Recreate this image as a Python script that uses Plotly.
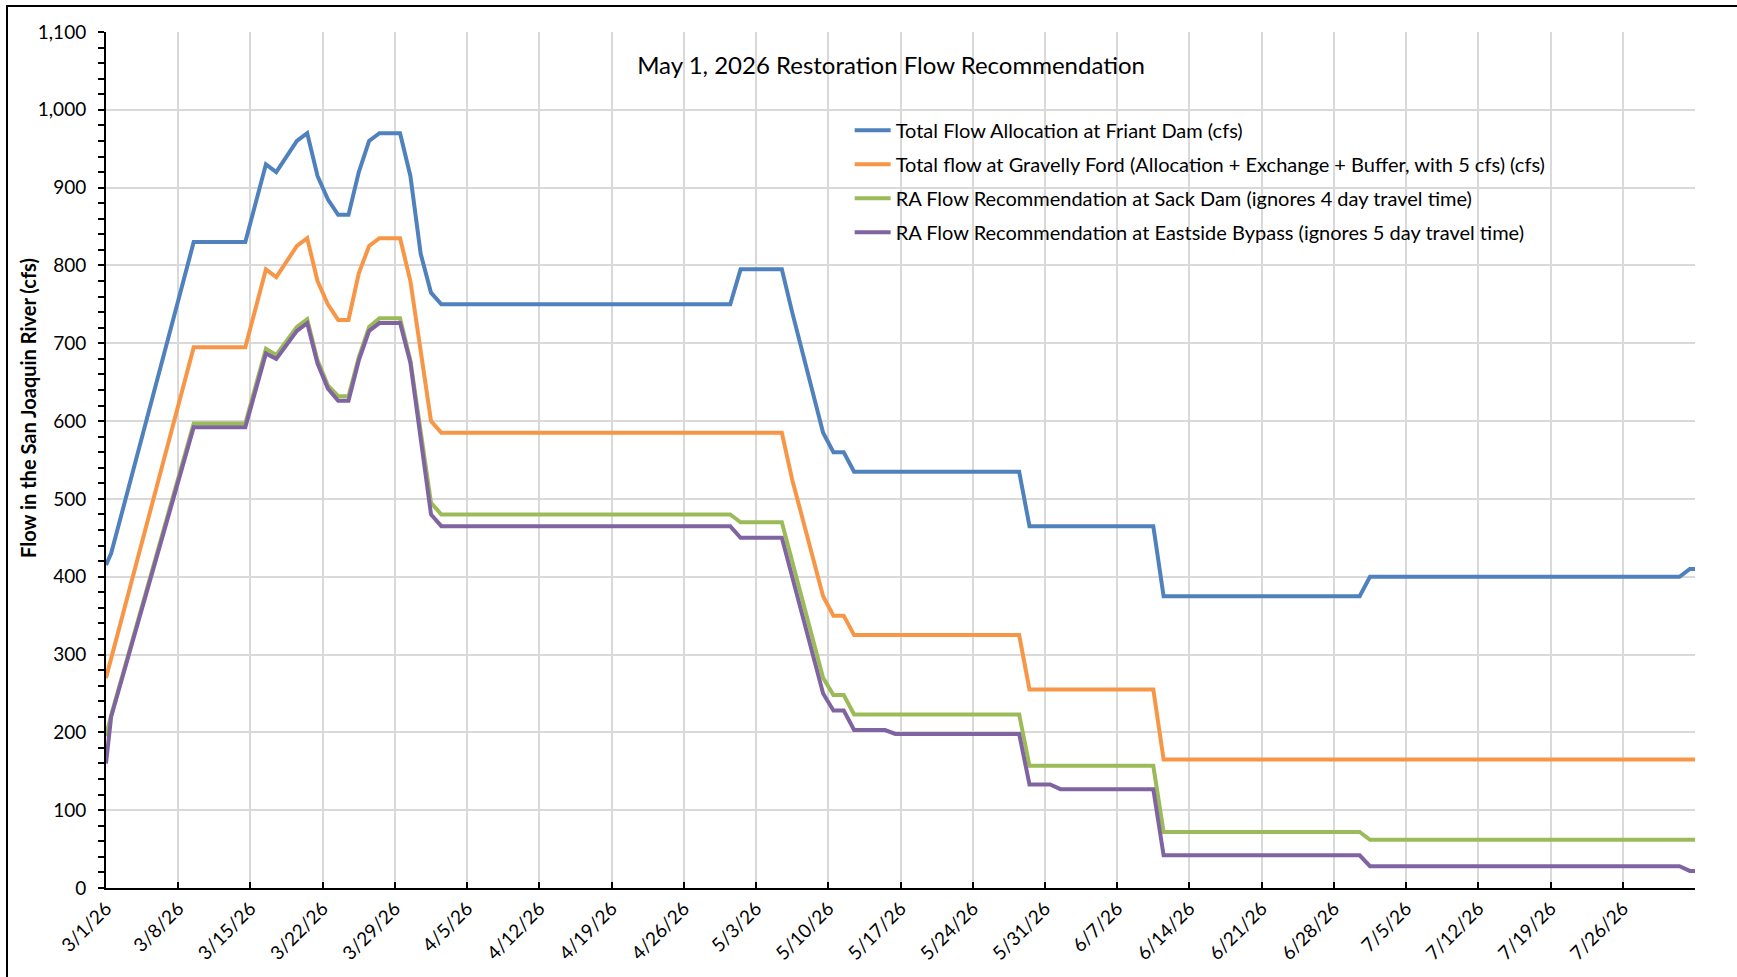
import plotly.graph_objects as go
import pandas as pd

START = pd.Timestamp("2026-03-01")

# Day offsets from 3/1/26 and flows (cfs)
friant_days = [0, 0.5, 8.5, 13.5, 15.5, 16.5, 18.5, 19.5, 20.5, 21.5, 22.5, 23.5, 24.5, 25.5,
               26.5, 28.5, 29.5, 30.5, 31.5, 32.5, 60.5, 61.5, 65.5, 66.5, 69.5, 70.5, 71.5,
               72.5, 88.5, 89.5, 101.5, 102.5, 121.5, 122.5, 152.5, 153.5, 154]
friant_cfs = [415, 430, 830, 830, 930, 920, 960, 970, 915, 885, 865, 865, 920, 960,
              970, 970, 915, 815, 765, 750, 750, 795, 795, 740, 585, 560, 560,
              535, 535, 465, 465, 375, 375, 400, 400, 410, 410]

gravelly_days = [0, 8.5, 13.5, 15.5, 16.5, 18.5, 19.5, 20.5, 21.5, 22.5, 23.5, 24.5, 25.5,
                 26.5, 28.5, 29.5, 31.5, 32.5, 65.5, 66.5, 69.5, 70.5, 71.5, 72.5, 88.5,
                 89.5, 101.5, 102.5, 154]
gravelly_cfs = [270, 695, 695, 795, 785, 825, 835, 780, 750, 730, 730, 790, 825,
                835, 835, 780, 600, 585, 585, 525, 375, 350, 350, 325, 325,
                255, 255, 165, 165]

sack_days = [0, 0.5, 8.5, 13.5, 15.5, 16.5, 18.5, 19.5, 20.5, 21.5, 22.5, 23.5, 24.5, 25.5,
             26.5, 28.5, 29.5, 31.5, 32.5, 60.5, 61.5, 65.5, 69.5, 70.5, 71.5, 72.5, 88.5,
             89.5, 101.5, 102.5, 121.5, 122.5, 154]
sack_cfs = [195, 222, 597, 597, 693, 685, 721, 731, 678, 646, 632, 632, 682, 721,
            732, 732, 678, 495, 480, 480, 470, 470, 270, 248, 248, 223, 223,
            157, 157, 72, 72, 62, 62]

eastside_days = [0, 0.5, 8.5, 13.5, 15.5, 16.5, 18.5, 19.5, 20.5, 21.5, 22.5, 23.5, 24.5, 25.5,
                 26.5, 28.5, 29.5, 31.5, 32.5, 60.5, 61.5, 65.5, 69.5, 70.5, 71.5, 72.5, 75.5,
                 76.5, 88.5, 89.5, 91.5, 92.5, 101.5, 102.5, 121.5, 122.5, 152.5, 153.5, 154]
eastside_cfs = [160, 220, 592, 592, 687, 680, 716, 726, 674, 642, 626, 626, 678, 716,
                726, 726, 675, 480, 465, 465, 450, 450, 250, 228, 228, 203, 203,
                198, 198, 133, 133, 127, 127, 42, 42, 28, 28, 22, 22]

series_names = [
    "Total Flow Allocation at Friant Dam (cfs)",
    "Total flow at Gravelly Ford (Allocation + Exchange + Buffer, with 5 cfs) (cfs)",
    "RA Flow Recommendation at Sack Dam (ignores 4 day travel time)",
    "RA Flow Recommendation at Eastside Bypass (ignores 5 day travel time)",
]
series_colors = ["#4F81BD", "#F79646", "#9BBB59", "#8064A2"]

tick_dates = ["2026-03-01", "2026-03-08", "2026-03-15", "2026-03-22", "2026-03-29",
              "2026-04-05", "2026-04-12", "2026-04-19", "2026-04-26", "2026-05-03",
              "2026-05-10", "2026-05-17", "2026-05-24", "2026-05-31", "2026-06-07",
              "2026-06-14", "2026-06-21", "2026-06-28", "2026-07-05", "2026-07-12",
              "2026-07-19", "2026-07-26", "2026-08-02"]
tick_labels = ["3/1/26", "3/8/26", "3/15/26", "3/22/26", "3/29/26", "4/5/26", "4/12/26",
               "4/19/26", "4/26/26", "5/3/26", "5/10/26", "5/17/26", "5/24/26", "5/31/26",
               "6/7/26", "6/14/26", "6/21/26", "6/28/26", "7/5/26", "7/12/26", "7/19/26",
               "7/26/26", ""]

FONT = "Lato"

def to_dates(days):
    return START + pd.to_timedelta(days, unit="D")

fig = go.Figure()
all_series = [(friant_days, friant_cfs), (gravelly_days, gravelly_cfs),
              (sack_days, sack_cfs), (eastside_days, eastside_cfs)]
for i, ((d, v), name, col) in enumerate(zip(all_series, series_names, series_colors)):
    fig.add_trace(go.Scatter(
        x=to_dates(d), y=v, mode="lines", name=name,
        line=dict(color=col, width=4), legendgroup=str(i),
    ))

fig.update_layout(
    width=1737, height=977,
    margin=dict(l=106, r=42, t=32, b=89),
    paper_bgcolor="white", plot_bgcolor="white",
    font=dict(family=FONT, size=19, color="#000000"),
    title=dict(text="May 1, 2026 Restoration Flow Recommendation",
               x=0.513, xref="container", xanchor="center",
               y=1 - 66 / 977, yref="container", yanchor="middle",
               font=dict(family=FONT, size=24, color="#000000")),
    legend=dict(x=0.468, y=0.908, xanchor="left", yanchor="top",
                bgcolor="rgba(0,0,0,0)", font=dict(family=FONT, size=20),
                tracegroupgap=5, itemwidth=36),
    showlegend=True,
)

fig.update_xaxes(
    range=[START, pd.Timestamp("2026-08-02")],
    tickmode="array", tickvals=tick_dates, ticktext=tick_labels,
    tickangle=-45, ticks="inside", ticklen=6, tickcolor="#000000", tickwidth=1.5,
    showline=True, linecolor="#000000", linewidth=2,
    showgrid=True, gridcolor="#D9D9D9", gridwidth=1.5,
    tickfont=dict(family=FONT, size=19), zeroline=False,
)
fig.update_yaxes(
    range=[0, 1100], dtick=100, tickformat=",",
    ticks="outside", ticklen=6, tickcolor="#000000", tickwidth=1.5,
    minor=dict(dtick=20, ticks="outside", ticklen=6, tickcolor="#000000", tickwidth=1.5,
               showgrid=False),
    showline=True, linecolor="#000000", linewidth=2,
    showgrid=True, gridcolor="#D9D9D9", gridwidth=1.5,
    tickfont=dict(family=FONT, size=19), zeroline=False,
    ticklabelstandoff=8,
)

# y-axis title (placed like the original, above centre)
fig.add_annotation(text="<b>Flow in the San Joaquin River (cfs)</b>",
                   xref="paper", yref="paper", x=(28 - 106) / 1589,
                   y=1 - (408 - 32) / 856, textangle=-90, showarrow=False,
                   xanchor="center", yanchor="middle",
                   font=dict(family=FONT, size=20, color="#000000"))

# outer chart border
fig.add_shape(type="rect", xref="paper", yref="paper",
              x0=(7 - 106) / 1589, x1=(1745 - 106) / 1589,
              y0=1 + (32 - 6) / 856, y1=(888 - 985) / 856,
              line=dict(color="#000000", width=2), layer="above")

fig.write_html("out.html", config={"displayModeBar": False},
               post_script="document.body.style.margin='0';document.body.style.overflow='hidden';")
